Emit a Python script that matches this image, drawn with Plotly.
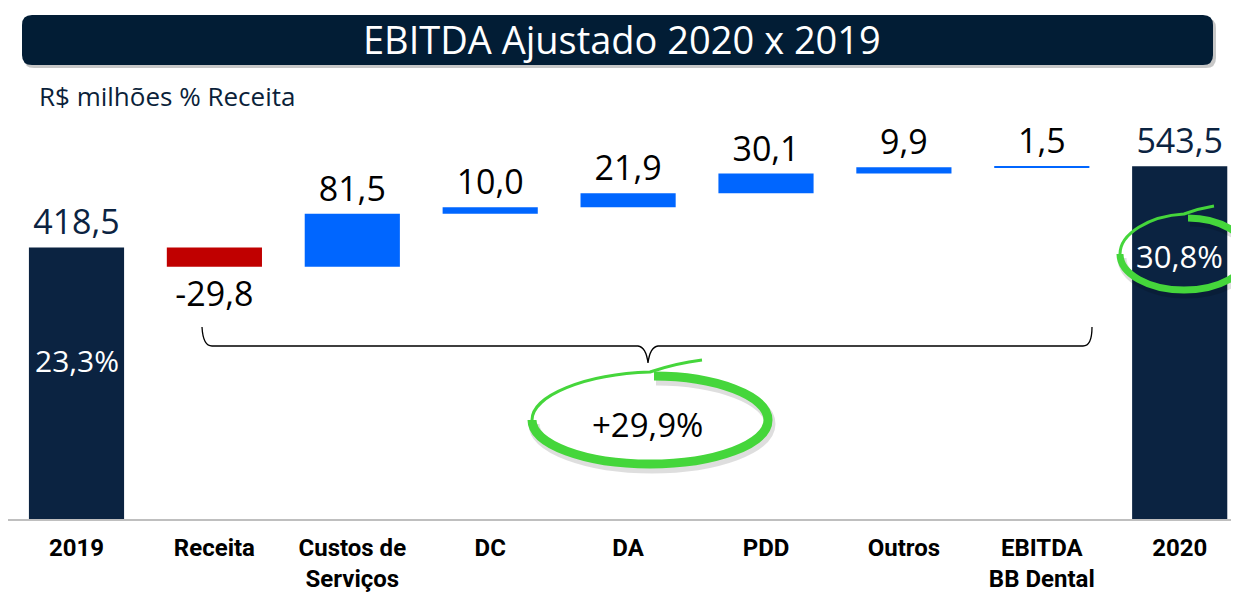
import plotly.graph_objects as go

# ---- data ----
categories = ["2019", "Receita", "Custos de<br>Serviços", "DC", "DA", "PDD",
              "Outros", "EBITDA<br>BB Dental", "2020"]
values = [418.5, -29.8, 81.5, 10.0, 21.9, 30.1, 9.9, 1.5, 543.5]
measures = ["absolute", "relative", "relative", "relative", "relative",
            "relative", "relative", "relative", "absolute"]
margin_2019 = "23,3%"
margin_2020 = "30,8%"
growth = "+29,9%"
title_text = "EBITDA Ajustado 2020 x 2019"
subtitle_text = "R$ milhões % Receita"

labels = [f"{v:.1f}".replace(".", ",") for v in values]

# page body has an 8px default margin -> draw a slightly smaller figure
OFF = 8
W, H = 1239 - OFF, 595 - OFF
BASE = 519                 # reference pixel row of the baseline
PLOT_H = BASE - OFF        # plot height inside the figure
NAVY = "#0b2341"
BLUE = "#0066ff"
RED = "#c00000"
GREEN = "#45d63b"
FONT = "Open Sans"


def fx(x):
    return (x - OFF) / W


def fy(y):
    return (BASE - y) / PLOT_H


fig = go.Figure()
fig.add_trace(go.Waterfall(
    x=list(range(len(categories))),
    y=values,
    measure=measures,
    text=labels,
    textposition="outside",
    textfont=dict(family=FONT, size=34,
                  color=[NAVY if m == "absolute" else "black" for m in measures]),
    width=0.69,
    connector=dict(visible=False),
    increasing=dict(marker=dict(color=BLUE, line=dict(width=0))),
    decreasing=dict(marker=dict(color=RED, line=dict(width=0))),
    totals=dict(marker=dict(color=NAVY, line=dict(width=0))),
    cliponaxis=False,
    hoverinfo="skip",
))

shapes = []


def rrect(x0, y0, x1, y1, r):
    return (f"M {fx(x0 + r)},{fy(y0)} L {fx(x1 - r)},{fy(y0)} "
            f"Q {fx(x1)},{fy(y0)} {fx(x1)},{fy(y0 + r)} "
            f"L {fx(x1)},{fy(y1 - r)} Q {fx(x1)},{fy(y1)} {fx(x1 - r)},{fy(y1)} "
            f"L {fx(x0 + r)},{fy(y1)} Q {fx(x0)},{fy(y1)} {fx(x0)},{fy(y1 - r)} "
            f"L {fx(x0)},{fy(y0 + r)} Q {fx(x0)},{fy(y0)} {fx(x0 + r)},{fy(y0)} Z")


shapes.append(dict(type="path", xref="paper", yref="paper",
                   path=rrect(24, 18, 1216, 68, 10),
                   fillcolor="rgba(0,0,0,0.22)", line=dict(width=0), layer="below"))
shapes.append(dict(type="path", xref="paper", yref="paper",
                   path=rrect(22, 15, 1213, 65, 10),
                   fillcolor="#021d35", line=dict(width=0), layer="below"))

# curly bracket
brace = (f"M {fx(202)},{fy(327)} Q {fx(203)},{fy(346)} {fx(212)},{fy(346)} "
         f"L {fx(638)},{fy(346)} Q {fx(646)},{fy(347)} {fx(648)},{fy(363)} "
         f"Q {fx(650)},{fy(347)} {fx(658)},{fy(346)} "
         f"L {fx(1083)},{fy(346)} Q {fx(1092)},{fy(346)} {fx(1092)},{fy(327)}")
shapes.append(dict(type="path", xref="paper", yref="paper", path=brace,
                   line=dict(color="black", width=1.3)))


def ellipse_paths(cx, cy, rx, ry, tail_dx, tail_dy):
    k = 0.5523
    thick = (f"M {fx(cx + 4)},{fy(cy - ry)} "
             f"C {fx(cx + k * rx)},{fy(cy - ry)} {fx(cx + rx)},{fy(cy - k * ry)} {fx(cx + rx)},{fy(cy)} "
             f"C {fx(cx + rx)},{fy(cy + k * ry)} {fx(cx + k * rx)},{fy(cy + ry)} {fx(cx)},{fy(cy + ry)} "
             f"C {fx(cx - k * rx)},{fy(cy + ry)} {fx(cx - rx)},{fy(cy + k * ry)} {fx(cx - rx)},{fy(cy)}")
    thin = (f"M {fx(cx - rx)},{fy(cy)} "
            f"C {fx(cx - rx)},{fy(cy - k * ry)} {fx(cx - k * rx)},{fy(cy - ry - 2)} {fx(cx)},{fy(cy - ry - 4)} "
            f"Q {fx(cx + tail_dx * 0.5)},{fy(cy - ry - tail_dy * 0.8)} {fx(cx + tail_dx)},{fy(cy - ry - tail_dy)}")
    return thick, thin


for (cx, cy, rx, ry, tdx, tdy, wthick) in [(650, 420, 118, 44, 52, 16, 9),
                                          (1184, 254, 64, 36, 30, 12, 7)]:
    thick, thin = ellipse_paths(cx, cy, rx, ry, tdx, tdy)
    shadow_thick, _ = ellipse_paths(cx + 2, cy + 4, rx, ry, tdx, tdy)
    shapes.append(dict(type="path", xref="paper", yref="paper", path=shadow_thick,
                       line=dict(color="rgba(0,0,0,0.13)", width=wthick + 2)))
    shapes.append(dict(type="path", xref="paper", yref="paper", path=thick,
                       line=dict(color=GREEN, width=wthick)))
    shapes.append(dict(type="path", xref="paper", yref="paper", path=thin,
                       line=dict(color=GREEN, width=3)))

annotations = [
    dict(x=fx(622), y=fy(39), xref="paper", yref="paper", text=title_text,
         xanchor="center", yanchor="middle",
         showarrow=False, font=dict(family=FONT, size=38, color="white")),
    dict(x=fx(37), y=fy(96), xref="paper", yref="paper", text=subtitle_text,
         xanchor="left", yanchor="middle",
         showarrow=False, font=dict(family=FONT, size=26, color="#0b1f3a")),
    dict(x=0, y=fy(360), xref="x", yref="paper", text=margin_2019,
         xanchor="center", yanchor="middle",
         showarrow=False, font=dict(family=FONT, size=30, color="white")),
    dict(x=8, y=fy(256), xref="x", yref="paper", text=margin_2020,
         xanchor="center", yanchor="middle",
         showarrow=False, font=dict(family=FONT, size=31, color="white")),
    dict(x=fx(647), y=fy(424), xref="paper", yref="paper", text=growth,
         xanchor="center", yanchor="middle",
         showarrow=False, font=dict(family=FONT, size=33, color="black")),
]

x_center0 = 76.5 - OFF      # reference pixel centre of the first category
step = 137.9                # pixels per category
r0 = -x_center0 / step

fig.update_layout(
    width=W, height=H,
    margin=dict(l=0, r=0, t=0, b=H - PLOT_H, autoexpand=False),
    paper_bgcolor="white", plot_bgcolor="white",
    showlegend=False,
    shapes=shapes,
    annotations=annotations,
    xaxis=dict(
        range=[r0, r0 + W / step],
        tickmode="array",
        tickvals=list(range(len(categories))),
        ticktext=categories,
        tickfont=dict(family="Roboto", size=24, color="black", weight=700),
        showline=True, linecolor="#bfbfbf", linewidth=2,
        showgrid=False, zeroline=False, automargin=False,
        ticks="outside", ticklen=6, tickcolor="rgba(0,0,0,0)",
    ),
    yaxis=dict(range=[0, PLOT_H / 0.649], visible=False, showgrid=False,
               zeroline=False, automargin=False),
)

fig.write_html("out.html")
